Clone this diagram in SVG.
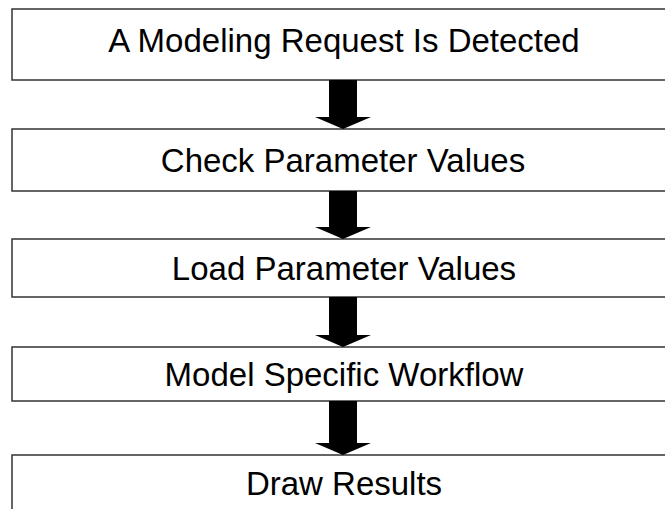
<svg xmlns="http://www.w3.org/2000/svg" width="665" height="509" viewBox="0 0 665 509">
<style>
.box{fill:#ffffff;stroke:#333333;stroke-width:1.5}
.lbl{font-family:"Liberation Sans",Arial,sans-serif;font-size:33px;fill:#000000;text-anchor:middle}
.arr{fill:#000000;stroke:none}
</style>
<rect width="665" height="509" fill="#ffffff"/>
<g id="node1"><rect class="box" x="12" y="9" width="670" height="71"/><text class="lbl" x="344" y="52">A Modeling Request Is Detected</text></g>
<g id="node2"><rect class="box" x="12" y="129" width="670" height="62"/><text class="lbl" x="343" y="172">Check Parameter Values</text></g>
<g id="node3"><rect class="box" x="12" y="239" width="670" height="58"/><text class="lbl" x="344" y="280">Load Parameter Values</text></g>
<g id="node4"><rect class="box" x="12" y="347" width="670" height="54"/><text class="lbl" x="344" y="386">Model Specific Workflow</text></g>
<g id="node5"><rect class="box" x="12" y="455" width="670" height="70"/><text class="lbl" x="344" y="495">Draw Results</text></g>
<g id="connectors">
<polygon class="arr" points="329,80 357,80 357,117 371,117 343,129 315,117 329,117"/>
<polygon class="arr" points="329,191 357,191 357,227 371,227 343,239 315,227 329,227"/>
<polygon class="arr" points="329,297 357,297 357,335 371,335 343,347 315,335 329,335"/>
<polygon class="arr" points="329,401 357,401 357,443 371,443 343,455 315,443 329,443"/>
</g>
</svg>
